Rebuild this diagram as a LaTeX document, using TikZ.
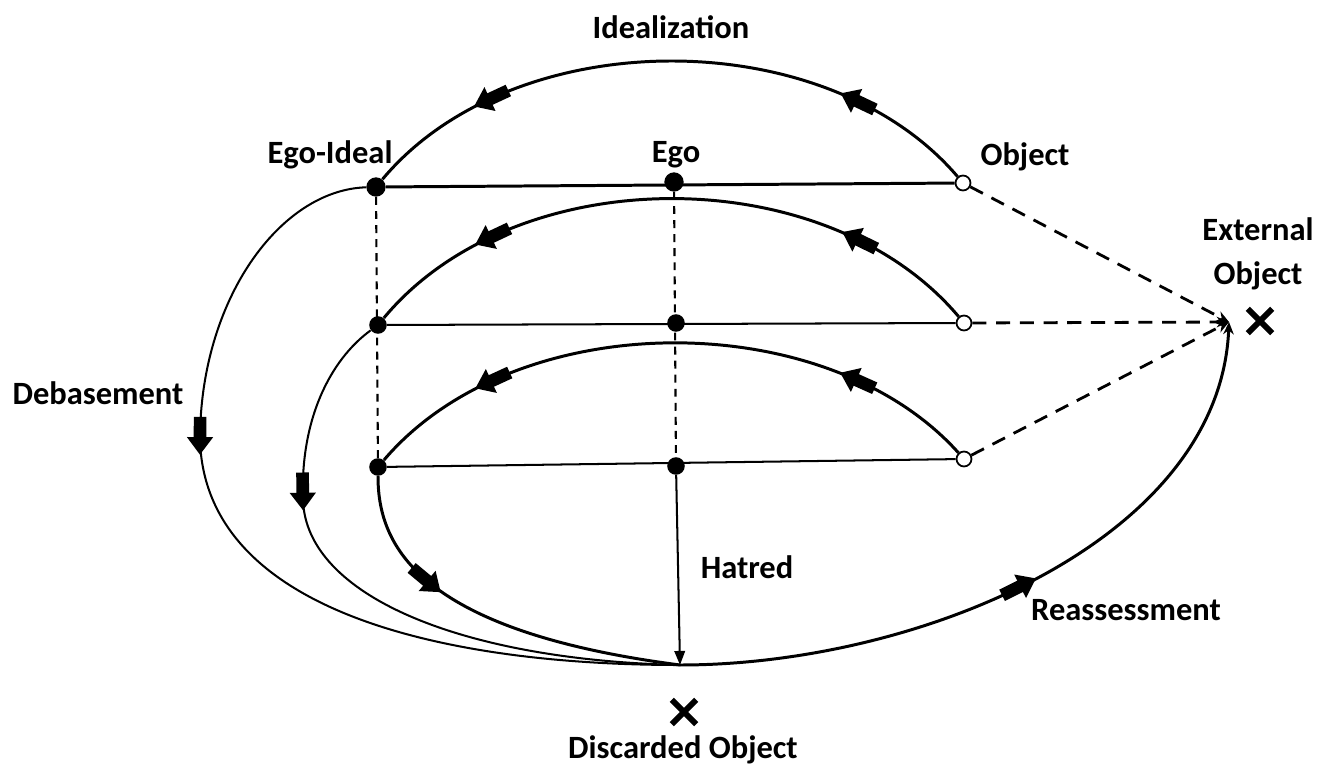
\documentclass[tikz,border=0pt]{standalone}
\usepackage{fontspec}
\setmainfont{Carlito}
\usetikzlibrary{arrows.meta,decorations.markings,shapes.misc}
\tikzset{
  lbl/.style={font=\bfseries\fontsize{18.5}{22}\selectfont, inner sep=0pt},
  dot/.style={circle, fill=black, inner sep=0pt, minimum size=11pt},
  sdot/.style={circle, fill=black, inner sep=0pt, minimum size=10pt},
  ocirc/.style={circle, draw=black, fill=white, line width=1pt, inner sep=0pt, minimum size=8.5pt},
  xmark/.style={cross out, draw=black, line width=3.4pt, inner sep=0pt, minimum size=10.5pt},
  thickln/.style={line width=1.7pt},
  thinln/.style={line width=1.15pt},
  vdash/.style={line width=1.2pt, dash pattern=on 4.5pt off 3.5pt},
  odash/.style={line width=1.6pt, dash pattern=on 8pt off 5.5pt, -{Stealth[length=7pt,width=6pt]}},
  barr/.style={postaction={decorate,decoration={markings,mark=at position #1 with {
      \fill (-12pt,-3.6pt) rectangle (0.5pt,3.6pt);
      \fill (-0.5pt,-7.5pt) -- (9.5pt,0pt) -- (-0.5pt,7.5pt) -- cycle;}}}},
}
\begin{document}
\begin{tikzpicture}[x=0.02cm, y=-0.02cm]
\useasboundingbox[fill=white] (0,0) rectangle (1325,767);

% nodes
\node[dot] (ei) at (376,187) {};
\node[dot] (e1) at (674,182) {};
\node[ocirc] (o1) at (963,183) {};
\node[sdot] (l2) at (378,325) {};
\node[sdot] (e2) at (676,323) {};
\node[ocirc] (o2) at (964,323) {};
\node[sdot] (l3) at (378,467) {};
\node[sdot] (e3) at (676,466) {};
\node[ocirc] (o3) at (964,459) {};
\coordinate (dp) at (680,665);
\coordinate (ext) at (1229,322);
\node[xmark] (xe) at (1260,321) {};
\node[xmark] (xd) at (684,712) {};

% labels
\node[lbl] (tid) at (671,27) {Idealization};
\node[lbl] (tei) at (330,155) {Ego-Ideal};
\node[lbl] (teg) at (676,155) {Ego};
\node[lbl] (tob) at (1025,157) {Object};
\node[lbl] (tex) at (1258,229) {External};
\node[lbl] (tex2) at (1258,276) {Object};
\node[lbl] (tdb) at (98,393) {Debasement};
\node[lbl] (tha) at (747,567) {Hatred};
\node[lbl] (tre) at (1126,610) {Reassessment};
\node[lbl] (tdo) at (683,750) {Discarded Object};

% horizontal lines
\draw[thickln] (ei) -- (o1);
\draw[thinln] (l2) -- (o2);
\draw[thinln] (l3) -- (o3);

% vertical dashed
\draw[vdash] (ei) -- (l3);
\draw[vdash] (e1) -- (e3);

% arcs
\draw[thickln, barr=0.2, barr=0.79] (o1) .. controls (826,22) and (514,22) .. (ei);
\draw[thickln, barr=0.2, barr=0.79] (o2) .. controls (826,159) and (516,159) .. (l2);
\draw[thickln, barr=0.2, barr=0.79] (o3) .. controls (826,305) and (516,305) .. (l3);

% left curves
\draw[thinln, barr=0.36] (ei) .. controls (280,190) and (200,300) .. (200,440) .. controls (205,610) and (440,665) .. (dp);
\draw[thinln, barr=0.29] (l2) .. controls (330,360) and (300,420) .. (303,500) .. controls (306,595) and (460,660) .. (dp);
\draw[thickln, barr=0.31] (l3) .. controls (378,540) and (410,630) .. (dp);

% hatred
\draw[thinln, -{Triangle[length=8pt,width=6pt]}] (e3) -- (dp);

% reassessment
\draw[thickln, barr=0.5, -{Stealth[length=7pt,width=6pt]}] (dp) .. controls (920,665) and (1220,540) .. (ext);

% dashed to external object
\draw[odash] (o1) -- (ext);
\draw[odash] (o2) -- (ext);
\draw[odash] (o3) -- (ext);
\end{tikzpicture}
\end{document}
